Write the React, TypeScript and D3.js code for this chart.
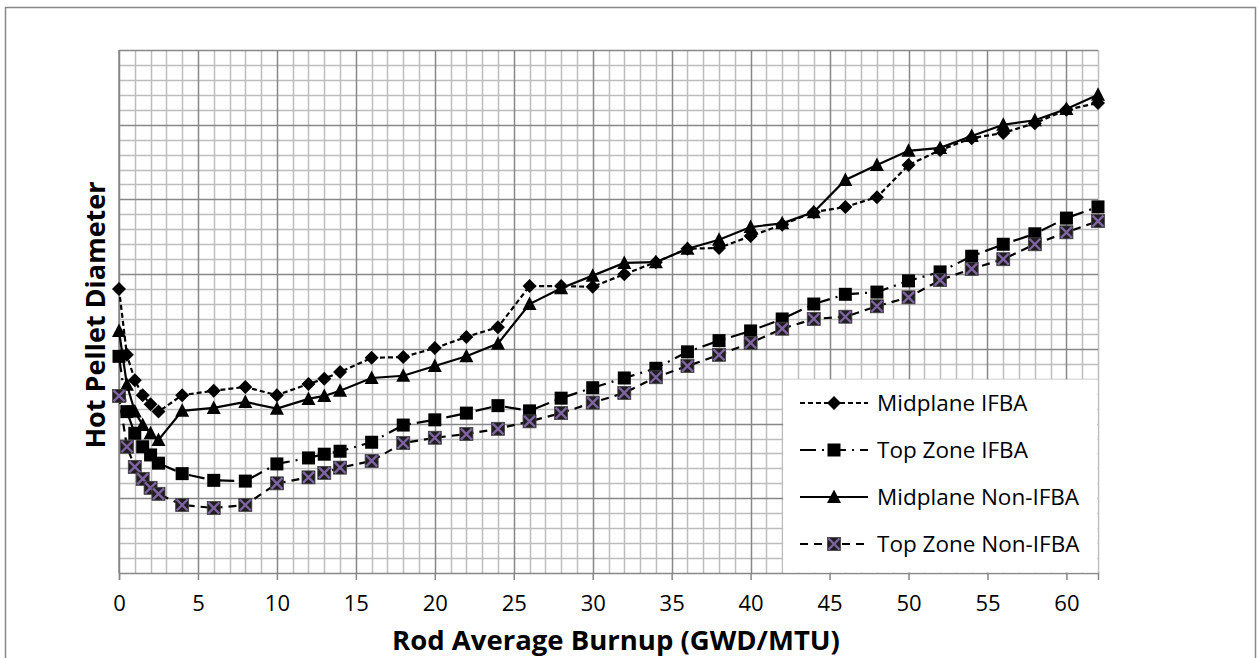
import { useEffect, useRef } from 'react';
import * as d3 from 'd3';

// burnup points (GWD/MTU)
const burnup = [0, 0.5, 1, 1.5, 2, 2.5, 4, 6, 8, 10, 12, 13, 14, 16, 18, 20, 22, 24, 26, 28, 30, 32, 34, 36, 38, 40, 42, 44, 46, 48, 50, 52, 54, 56, 58, 60, 62];

// diameter in grid units (y axis has no labels)
const midplaneIfba = [3.80, 2.92, 2.58, 2.38, 2.26, 2.16, 2.38, 2.44, 2.49, 2.38, 2.53, 2.60, 2.69, 2.88, 2.89, 3.01, 3.16, 3.29, 3.84, 3.84, 3.83, 4.00, 4.16, 4.34, 4.35, 4.51, 4.66, 4.83, 4.90, 5.03, 5.46, 5.66, 5.82, 5.89, 6.02, 6.20, 6.29];
const topZoneIfba = [2.90, 2.16, 1.87, 1.69, 1.58, 1.47, 1.33, 1.24, 1.23, 1.46, 1.54, 1.59, 1.63, 1.75, 1.98, 2.05, 2.14, 2.24, 2.17, 2.34, 2.48, 2.61, 2.74, 2.96, 3.11, 3.24, 3.40, 3.60, 3.73, 3.76, 3.91, 4.03, 4.24, 4.40, 4.54, 4.75, 4.90];
const midplaneNonIfba = [3.24, 2.52, 2.16, 1.98, 1.87, 1.78, 2.17, 2.21, 2.29, 2.20, 2.33, 2.37, 2.44, 2.61, 2.64, 2.77, 2.90, 3.07, 3.60, 3.81, 3.98, 4.15, 4.16, 4.34, 4.46, 4.63, 4.68, 4.83, 5.26, 5.46, 5.65, 5.69, 5.85, 6.00, 6.06, 6.21, 6.40];
const topZoneNonIfba = [2.37, 1.69, 1.42, 1.26, 1.14, 1.06, 0.91, 0.87, 0.91, 1.20, 1.28, 1.34, 1.41, 1.50, 1.74, 1.81, 1.86, 1.93, 2.03, 2.14, 2.28, 2.41, 2.62, 2.77, 2.92, 3.08, 3.27, 3.40, 3.43, 3.57, 3.69, 3.92, 4.07, 4.20, 4.40, 4.56, 4.71];

const seriesNames = ['Midplane IFBA', 'Top Zone IFBA', 'Midplane Non-IFBA', 'Top Zone Non-IFBA'];
const seriesValues = [midplaneIfba, topZoneIfba, midplaneNonIfba, topZoneNonIfba];
const xTicks = [0, 5, 10, 15, 20, 25, 30, 35, 40, 45, 50, 55, 60];

const styles = [
  { dash: '5,3', marker: 'diamond' },
  { dash: '16,6,2,6', marker: 'square' },
  { dash: null, marker: 'triangle' },
  { dash: '8,6', marker: 'xsquare' },
];

const FONT = "'Open Sans', 'Liberation Sans', sans-serif";

const App = () => {
  const svgRef = useRef<SVGSVGElement>(null);

  useEffect(() => {
    const W = 1259, H = 658;
    const svg = d3.select(svgRef.current);
    svg.selectAll('*').remove();
    svg.attr('width', W).attr('height', H);

    const x = d3.scaleLinear().domain([0, 62]).range([119, 1098]);
    const y = d3.scaleLinear().domain([0, 7]).range([573, 50]);

    // outer frame
    svg.append('rect').attr('x', 0).attr('y', 0).attr('width', W).attr('height', H).attr('fill', '#fff');
    svg.append('rect')
      .attr('x', 5.5).attr('y', 7.5).attr('width', 1250).attr('height', 700)
      .attr('fill', 'none').attr('stroke', '#878787').attr('stroke-width', 1.5);

    const grid = svg.append('g');
    const minorX = d3.range(0, 63, 1);
    const minorY = d3.range(0, 35.01, 1).map(i => i / 5);

    // minor grid
    grid.selectAll('.vminor').data(minorX.filter(v => v % 5 !== 0)).enter().append('line')
      .attr('x1', d => Math.round(x(d)) + 0.5).attr('x2', d => Math.round(x(d)) + 0.5)
      .attr('y1', y(7)).attr('y2', y(0))
      .attr('stroke', '#bdbdbd').attr('stroke-width', 1.5);
    grid.selectAll('.hminor').data(minorY.filter((v, i) => i % 5 !== 0)).enter().append('line')
      .attr('y1', d => Math.round(y(d)) + 0.5).attr('y2', d => Math.round(y(d)) + 0.5)
      .attr('x1', x(0)).attr('x2', x(62))
      .attr('stroke', '#bdbdbd').attr('stroke-width', 1.5);
    // major grid
    grid.selectAll('.vmajor').data(xTicks).enter().append('line')
      .attr('x1', d => Math.round(x(d)) + 0.5).attr('x2', d => Math.round(x(d)) + 0.5)
      .attr('y1', y(7)).attr('y2', y(0))
      .attr('stroke', '#878787').attr('stroke-width', 1.5);
    grid.selectAll('.hmajor').data(d3.range(1, 8)).enter().append('line')
      .attr('y1', d => Math.round(y(d)) + 0.5).attr('y2', d => Math.round(y(d)) + 0.5)
      .attr('x1', x(0)).attr('x2', x(62))
      .attr('stroke', '#878787').attr('stroke-width', 1.5);

    // x axis
    const xAxis = d3.axisBottom(x).tickValues(xTicks).tickSize(7).tickFormat(d3.format('d'));
    const gx = svg.append('g').attr('transform', `translate(0,${y(0)})`).call(xAxis);
    gx.select('.domain').attr('stroke', '#878787').attr('stroke-width', 1.5);
    gx.selectAll('.tick line').attr('stroke', '#878787').attr('stroke-width', 1.5);
    gx.selectAll('.tick text')
      .attr('y', 22).attr('font-family', FONT).attr('font-size', 22).attr('fill', '#000');
    // y axis line (no labels)
    svg.append('line').attr('x1', x(0)).attr('x2', x(0)).attr('y1', y(7)).attr('y2', y(0))
      .attr('stroke', '#878787').attr('stroke-width', 1.5);

    // axis titles
    svg.append('text').attr('x', 616).attr('y', 650).attr('text-anchor', 'middle')
      .attr('font-family', FONT).attr('font-weight', 'bold').attr('font-size', 27.5)
      .text('Rod Average Burnup (GWD/MTU)');
    svg.append('text').attr('transform', `translate(105,315) rotate(-90)`).attr('text-anchor', 'middle')
      .attr('font-family', FONT).attr('font-weight', 'bold').attr('font-size', 27)
      .text('Hot Pellet Diameter');

    const drawMarker = (g: any, kind: string, cx: number, cy: number) => {
      if (kind === 'diamond') {
        g.append('path').attr('d', `M${cx},${cy - 7}L${cx + 7},${cy}L${cx},${cy + 7}L${cx - 7},${cy}Z`).attr('fill', '#000');
      } else if (kind === 'square') {
        g.append('rect').attr('x', cx - 6.5).attr('y', cy - 6.5).attr('width', 13).attr('height', 13).attr('fill', '#000');
      } else if (kind === 'triangle') {
        g.append('path').attr('d', `M${cx},${cy - 7.5}L${cx + 7},${cy + 6}L${cx - 7},${cy + 6}Z`).attr('fill', '#000');
      } else {
        g.append('rect').attr('x', cx - 6.5).attr('y', cy - 6.5).attr('width', 13).attr('height', 13)
          .attr('fill', '#1e1e1e').attr('stroke', '#444').attr('stroke-width', 0.8);
        g.append('path').attr('d', `M${cx - 5.5},${cy - 5.5}L${cx + 5.5},${cy + 5.5}M${cx + 5.5},${cy - 5.5}L${cx - 5.5},${cy + 5.5}`)
          .attr('stroke', '#8064a2').attr('stroke-width', 2.4).attr('fill', 'none');
      }
    };

    const line = d3.line<number>().x((d, i) => x(burnup[i])).y(d => y(d));

    seriesValues.forEach((vals, si) => {
      const st = styles[si];
      const g = svg.append('g');
      g.append('path').attr('d', line(vals) as string).attr('fill', 'none')
        .attr('stroke', '#000').attr('stroke-width', 2.2)
        .attr('stroke-dasharray', st.dash as any);
      vals.forEach((v, i) => drawMarker(g, st.marker, x(burnup[i]), y(v)));
    });

    // legend
    const lg = svg.append('g');
    lg.append('rect').attr('x', x(42) + 1).attr('y', 379.5).attr('width', x(62) - x(42) - 1.5).attr('height', y(0) - 380)
      .attr('fill', '#fff');
    seriesNames.forEach((name, i) => {
      const ly = 403 + i * 47;
      const st = styles[i];
      lg.append('line').attr('x1', 800).attr('x2', 868).attr('y1', ly).attr('y2', ly)
        .attr('stroke', '#000').attr('stroke-width', 2.2).attr('stroke-dasharray', st.dash as any);
      drawMarker(lg, st.marker, 834, ly);
      lg.append('text').attr('x', 877).attr('y', ly).attr('dy', '0.35em')
        .attr('font-family', FONT).attr('font-size', 22.5).attr('fill', '#000').text(name);
    });
  }, []);

  return <svg ref={svgRef} style={{ position: 'absolute', left: 0, top: 0, display: 'block' }}></svg>;
};

export default App;
